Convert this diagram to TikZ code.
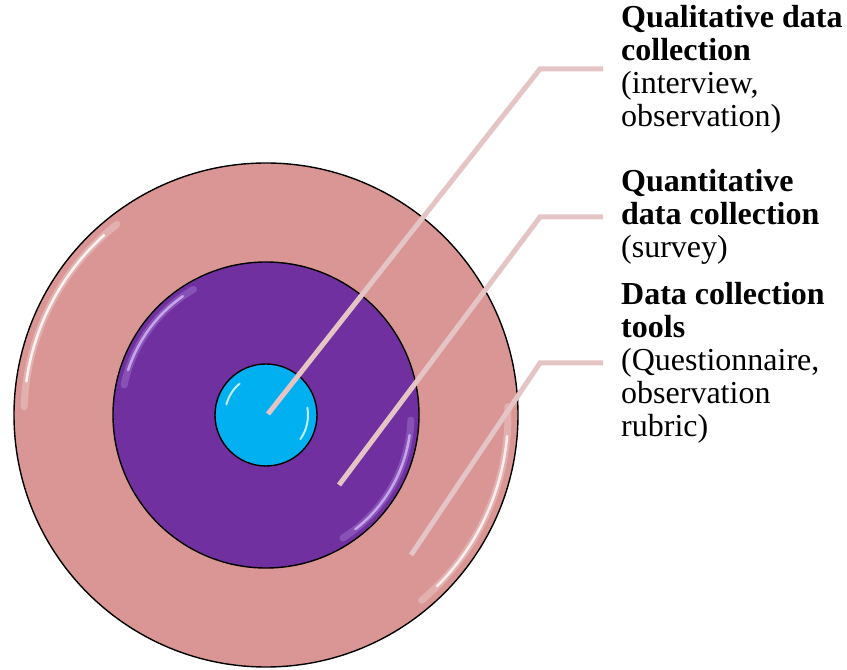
\documentclass[tikz,border=0pt]{standalone}
\usepackage{fontspec}
\setmainfont{Liberation Serif}
\usepackage{tikz}

\definecolor{ringpink}{HTML}{D99694}
\definecolor{ringpurple}{HTML}{7030A0}
\definecolor{ringblue}{HTML}{00B0F0}
\definecolor{leaderpink}{RGB}{228,196,196}
\definecolor{lavender}{RGB}{210,180,245}

\begin{document}
\begin{tikzpicture}[x=1pt,y=1pt,
    ring/.style={circle,draw=black,line width=1.4pt,inner sep=0pt},
    leader/.style={leaderpink,line width=5pt},
    gloss/.style={line width=2.5pt,line cap=round},
    halo/.style={line width=7pt,line cap=round,opacity=0.25},
    lbl/.style={anchor=west,inner sep=0pt,align=left,font=\fontsize{32}{33}\selectfont}]
    \useasboundingbox (0,0) rectangle (847,670);
    \node[ring,fill=ringpink,minimum size=504] (outer) at (266,255) {};
    \draw[halo,white] (outer.center) ++(128:242) arc (128:178:242);
    \draw[gloss,white,opacity=0.85] (outer.center) ++(132:242) arc (132:172:242);
    \draw[halo,white] (outer.center) ++(2:242) arc (2:-50:242);
    \draw[gloss,white,opacity=0.8] (outer.center) ++(-5:242) arc (-5:-45:242);
    \node[ring,fill=ringpurple,minimum size=306] (middle) at (266,255) {};
    \draw[halo,lavender] (middle.center) ++(120:145) arc (120:168:145);
    \draw[gloss,lavender,opacity=0.85] (middle.center) ++(125:145) arc (125:162:145);
    \draw[halo,lavender] (middle.center) ++(-2:145) arc (-2:-58:145);
    \draw[gloss,lavender,opacity=0.85] (middle.center) ++(-8:145) arc (-8:-52:145);
    \node[ring,fill=ringblue,minimum size=102] (inner) at (266,255) {};
    \draw[gloss,white,opacity=0.75,line width=2pt] (inner.center) ++(130:41) arc (130:165:41);
    \draw[gloss,white,opacity=0.75,line width=2pt] (inner.center) ++(10:42) arc (10:-35:42);

    \node[lbl] (qual) at (621,601) {\textbf{Qualitative data}\\\textbf{collection}\\(interview,\\observation)};
    \node[lbl] (quant) at (621,453) {\textbf{Quantitative}\\\textbf{data collection}\\(survey)};
    \node[lbl] (tools) at (621,307) {\textbf{Data collection}\\\textbf{tools}\\(Questionnaire,\\observation\\rubric)};

    \coordinate (tip1) at (268,256);
    \coordinate (tip2) at (339,185);
    \coordinate (tip3) at (411,115);
    \coordinate (bend1) at (540,601);
    \coordinate (bend2) at (540,453);
    \coordinate (bend3) at (540,307);
    \draw[leader] (tip1) -- (bend1) -- ([xshift=-18pt]qual.west);
    \draw[leader] (tip2) -- (bend2) -- ([xshift=-18pt]quant.west);
    \draw[leader] (tip3) -- (bend3) -- ([xshift=-18pt]tools.west);
\end{tikzpicture}
\end{document}
